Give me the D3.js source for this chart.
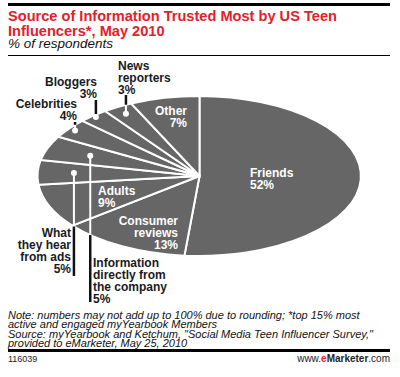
<!DOCTYPE html>
<html><head><meta charset="utf-8">
<script src="https://cdn.jsdelivr.net/npm/d3@7"></script>
<style>
html,body{margin:0;padding:0;background:#fff;}
svg{display:block;}
text{font-family:"Liberation Sans",Arial,sans-serif;}
</style></head>
<body>
<script>
// ---- data ----
const categories = ["Friends","Consumer reviews","Adults","What they hear from ads","Information directly from the company","Celebrities","Bloggers","News reporters","Other"];
const values = [52,13,9,5,5,4,3,3,7];
const labelLines = [["Friends"],["Consumer","reviews"],["Adults"],["What","they hear","from ads"],["Information","directly from","the company"],["Celebrities"],["Bloggers"],["News","reporters"],["Other"]];
const titleLines = ["Source of Information Trusted Most by US Teen","Influencers*, May 2010"];
const subtitle = "% of respondents";
const noteLines = ["Note: numbers may not add up to 100% due to rounding; *top 15% most","active and engaged myYearbook Members","Source: myYearbook and Ketchum, \"Social Media Teen Influencer Survey,\"","provided to eMarketer, May 25, 2010"];
const chartId = "116039";

// ---- layout ----
const W = 400, H = 377;
const cx = 199.5, cy = 176, rx = 162, ry = 80;
// label placement: x, first baseline y, anchor, inside?, dot radius fraction, leader end y
const layout = [
  {x:250, y:177, anchor:"start", inside:true},
  {x:178, y:225, anchor:"end", inside:true},
  {x:98,  y:195, anchor:"start", inside:true},
  {x:71,  y:237, anchor:"end", inside:false, dotR:0.776, lineEnd:276},
  {x:93,  y:267, anchor:"start", inside:false, dotR:0.72, lineEnd:302},
  {x:77,  y:108, anchor:"end", inside:false, dotR:0.956, lineEnd:122},
  {x:97,  y:86,  anchor:"end", inside:false, dotR:0.975, lineEnd:100},
  {x:118, y:70,  anchor:"start", inside:false, dotR:0.9, lineEnd:95},
  {x:187, y:115, anchor:"end", inside:true}
];

const svg = d3.select("body").append("svg").attr("width",W).attr("height",H);

// header rules
svg.append("rect").attr("x",8).attr("y",3).attr("width",382).attr("height",3).attr("fill","#000");
svg.append("rect").attr("x",8).attr("y",55).attr("width",382).attr("height",1).attr("fill","#000");

svg.append("g").selectAll("text").data(titleLines).join("text")
  .attr("x",8).attr("y",(d,i)=>20.5+i*15)
  .attr("fill","#e3202b").attr("font-weight","bold").attr("font-size","14.6px")
  .text(d=>d);
svg.append("text").attr("x",8).attr("y",48).attr("font-style","italic").attr("font-size","13.5px")
  .attr("fill","#111").text(subtitle);

// pie
const pie = d3.pie().sort(null).value(d=>d)(values);
const arc = d3.arc().innerRadius(0).outerRadius(1);
const gPie = svg.append("g").attr("transform",`translate(${cx},${cy}) scale(${rx},${ry})`);
gPie.selectAll("path").data(pie).join("path")
  .attr("d",arc).attr("fill","#666666")
  .attr("stroke","#fff").attr("stroke-width",2).attr("vector-effect","non-scaling-stroke");

// leader lines + dots
const edgeY = (x, top) => {
  const t = (x-cx)/rx; const dy = ry*Math.sqrt(Math.max(0,1-t*t));
  return top ? cy-dy : cy+dy;
};
pie.forEach((p,i)=>{
  const L = layout[i];
  if (L.inside) return;
  const a = (p.startAngle+p.endAngle)/2;
  const dx = cx + rx*L.dotR*Math.sin(a);
  const dy = cy - ry*L.dotR*Math.cos(a);
  const top = L.lineEnd < dy;
  const ey = edgeY(dx, top);
  svg.append("line").attr("x1",dx).attr("x2",dx).attr("y1",dy).attr("y2",ey)
    .attr("stroke","#fff").attr("stroke-width",2);
  svg.append("line").attr("x1",dx).attr("x2",dx).attr("y1",ey).attr("y2",L.lineEnd)
    .attr("stroke","#111").attr("stroke-width",2.5);
  svg.append("circle").attr("cx",dx).attr("cy",dy).attr("r",3).attr("fill","#fff");
});

// labels
pie.forEach((p,i)=>{
  const L = layout[i];
  const lines = labelLines[i].concat([values[i]+"%"]);
  const t = svg.append("text").attr("font-weight","bold").attr("font-size","12px")
    .attr("text-anchor",L.anchor).attr("fill", L.inside ? "#fff" : "#1a1a22");
  lines.forEach((s,j)=>{
    t.append("tspan").attr("x",L.x).attr("y",L.y+j*12).text(s);
  });
});

// footer
svg.append("g").selectAll("text").data(noteLines).join("text")
  .attr("x",8).attr("y",(d,i)=>319+i*9.3)
  .attr("font-style","italic").attr("font-size","11px").attr("fill","#111")
  .text(d=>d);
svg.append("rect").attr("x",8).attr("y",349).attr("width",382).attr("height",3).attr("fill","#000");
svg.append("text").attr("x",8).attr("y",362).attr("font-size","9px").attr("fill","#222").text(chartId);
const brand = svg.append("text").attr("x",390).attr("y",362).attr("text-anchor","end").attr("font-size","10px").attr("fill","#222");
brand.append("tspan").text("www.");
brand.append("tspan").attr("fill","#e3202b").attr("font-weight","bold").text("e");
brand.append("tspan").attr("font-weight","bold").text("Marketer");
brand.append("tspan").text(".com");
</script>
</body></html>
